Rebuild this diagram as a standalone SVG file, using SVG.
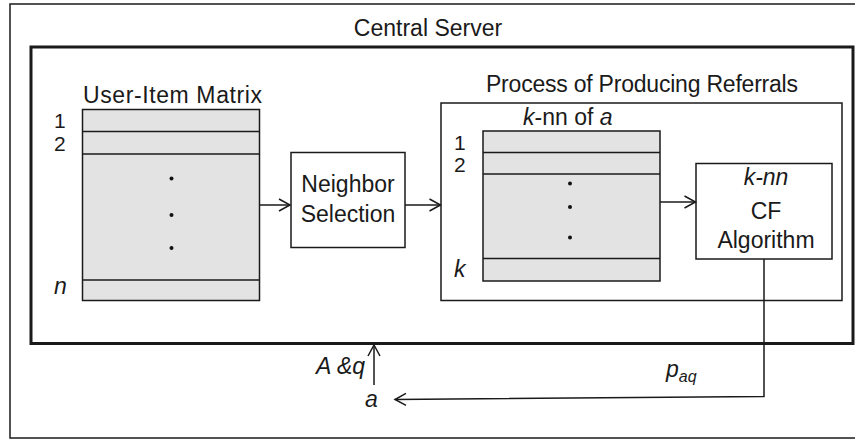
<svg xmlns="http://www.w3.org/2000/svg" width="855" height="441" viewBox="0 0 855 441">
  <style>
    .box { fill: #ffffff; stroke: #1a1a1a; stroke-width: 1.5; }
    .thick { fill: #ffffff; stroke: #1a1a1a; stroke-width: 3; }
    .mat { fill: #e3e3e3; stroke: #1a1a1a; stroke-width: 1.5; }
    .row { stroke: #1a1a1a; stroke-width: 1.5; }
    .lbl { font-family: "Liberation Sans", Arial, sans-serif; font-size: 23px; fill: #1a1a1a; }
    .idx { font-size: 21px; }
    .it { font-style: italic; }
    .mid { text-anchor: middle; }
    .dot { fill: #111111; }
    .edge { fill: none; stroke: #1a1a1a; stroke-width: 1.5; }
  </style>
  <defs>
    <marker id="arrow" markerUnits="userSpaceOnUse" markerWidth="14" markerHeight="14" viewBox="0 0 14 14" refX="12" refY="7" orient="auto">
      <path d="M1,1 L12,7 L1,13" fill="none" stroke="#1a1a1a" stroke-width="1.5"/>
    </marker>
  </defs>

  <rect width="855" height="441" fill="#ffffff"/>

  <!-- outer frame and central server -->
  <g id="outer-frame">
    <rect class="box" x="10" y="4" width="850" height="434"/>
  </g>
  <g id="central-server">
    <rect class="thick" x="31" y="47" width="822" height="296.5"/>
    <text class="lbl mid" x="428" y="36">Central Server</text>
  </g>

  <!-- user-item matrix -->
  <g id="user-item-matrix">
    <text class="lbl" x="83" y="103" textLength="179">User-Item Matrix</text>
    <rect class="mat" x="82.5" y="109.5" width="177" height="191"/>
    <line class="row" x1="82.5" y1="131.5" x2="259.5" y2="131.5"/>
    <line class="row" x1="82.5" y1="154" x2="259.5" y2="154"/>
    <line class="row" x1="82.5" y1="280" x2="259.5" y2="280"/>
    <circle class="dot" cx="171.5" cy="178.5" r="2"/>
    <circle class="dot" cx="171.5" cy="215" r="2"/>
    <circle class="dot" cx="171.5" cy="248" r="2"/>
    <text class="lbl idx" x="54" y="128">1</text>
    <text class="lbl idx" x="54" y="151">2</text>
    <text class="lbl it" x="54" y="294">n</text>
  </g>

  <!-- neighbor selection -->
  <g id="neighbor-selection">
    <rect class="box" x="291" y="152.5" width="114" height="95"/>
    <text class="lbl mid" x="348" y="192">Neighbor</text>
    <text class="lbl mid" x="348" y="222">Selection</text>
  </g>

  <!-- process of producing referrals -->
  <g id="process">
    <text class="lbl" x="486" y="92" textLength="312">Process of Producing Referrals</text>
    <rect class="box" x="441" y="103" width="401" height="197.5"/>
  </g>

  <!-- k nearest neighbours matrix -->
  <g id="knn-matrix">
    <text class="lbl" x="523" y="125"><tspan class="it">k</tspan>-nn of <tspan class="it">a</tspan></text>
    <rect class="mat" x="483" y="131" width="177" height="150"/>
    <line class="row" x1="483" y1="152.5" x2="660" y2="152.5"/>
    <line class="row" x1="483" y1="174" x2="660" y2="174"/>
    <line class="row" x1="483" y1="258.5" x2="660" y2="258.5"/>
    <circle class="dot" cx="570" cy="183.5" r="2"/>
    <circle class="dot" cx="570" cy="207" r="2"/>
    <circle class="dot" cx="570" cy="237.5" r="2"/>
    <text class="lbl idx" x="454" y="149.5">1</text>
    <text class="lbl idx" x="454" y="172">2</text>
    <text class="lbl it" x="454" y="277">k</text>
  </g>

  <!-- k-nn CF algorithm -->
  <g id="cf-algorithm">
    <rect class="box" x="696" y="163.5" width="136" height="95.5"/>
    <text class="lbl it mid" x="766" y="185">k-nn</text>
    <text class="lbl mid" x="766" y="218.5">CF</text>
    <text class="lbl mid" x="766" y="248">Algorithm</text>
  </g>

  <!-- active user -->
  <g id="user-a">
    <text class="lbl it" x="365" y="407">a</text>
  </g>

  <!-- connectors -->
  <g id="connectors">
    <line class="edge" x1="259.5" y1="205" x2="290" y2="205" marker-end="url(#arrow)"/>
    <line class="edge" x1="405" y1="205" x2="440.5" y2="205" marker-end="url(#arrow)"/>
    <line class="edge" x1="660" y1="202" x2="695.5" y2="202" marker-end="url(#arrow)"/>
    <line class="edge" x1="374" y1="385" x2="374" y2="345" marker-end="url(#arrow)"/>
    <polyline class="edge" points="764,259 764,396.5 395,399.5" marker-end="url(#arrow)"/>
    <text class="lbl it" x="316" y="374">A &amp;q</text>
    <text class="lbl it" x="666" y="377">p<tspan font-size="16" dy="5">aq</tspan></text>
  </g>
</svg>
